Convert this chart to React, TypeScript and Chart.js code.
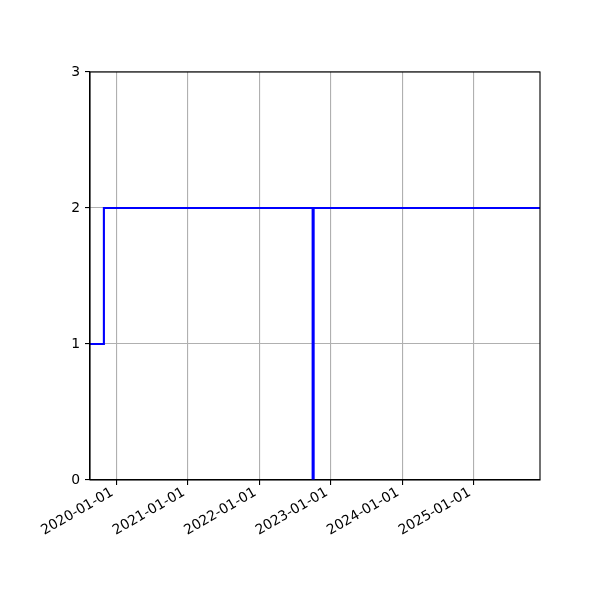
import React, { useEffect, useRef } from "react";
import { Chart, registerables } from "chart.js";

Chart.register(...registerables);

const stepDates = ["2019-08-20", "2019-10-30", "2022-10-01", "2022-10-06", "2025-12-06"];
const stepValues = [1, 2, 0, 2, 2];
const xTickLabels = ["2020-01-01", "2021-01-01", "2022-01-01", "2023-01-01", "2024-01-01", "2025-01-01"];
const yTickValues = [0, 1, 2, 3];
const xRange = ["2019-08-20", "2025-12-06"];

const toMs = (s: string) => {
  const [y, m, d] = s.split("-").map(Number);
  return Date.UTC(y, m - 1, d);
};

const FONT = "DejaVu Sans";
const FS = 13.9;
const LW = 1.11;

const frameAndLabels = {
  id: "frameAndLabels",
  afterDraw(chart: any) {
    const { ctx, chartArea } = chart;
    const xs = chart.scales.x;
    ctx.save();
    ctx.strokeStyle = "#000";
    ctx.lineWidth = LW;
    ctx.strokeRect(chartArea.left, chartArea.top, chartArea.right - chartArea.left, chartArea.bottom - chartArea.top);
    ctx.fillStyle = "#000";
    ctx.font = `${FS}px "${FONT}"`;
    ctx.textAlign = "right";
    ctx.textBaseline = "alphabetic";
    xTickLabels.forEach((lab) => {
      const px = xs.getPixelForValue(toMs(lab));
      const w = ctx.measureText(lab).width;
      const ox = px - 72 + 0.866 * w;
      const oy = chartArea.bottom + 55 - 0.5 * w;
      ctx.save();
      ctx.translate(ox, oy);
      ctx.rotate(-Math.PI / 6);
      ctx.fillText(lab, 0, 0);
      ctx.restore();
    });
    ctx.restore();
  },
};

export default function App() {
  const ref = useRef<HTMLCanvasElement>(null);
  useEffect(() => {
    if (!ref.current) return;
    const chart = new Chart(ref.current, {
      type: "line",
      data: {
        datasets: [
          {
            data: stepDates.map((d, i) => ({ x: toMs(d), y: stepValues[i] })),
            borderColor: "#0000ff",
            borderWidth: 2.1,
            pointRadius: 0,
            stepped: true,
            fill: false,
          },
        ],
      },
      options: {
        animation: false,
        responsive: false,
        devicePixelRatio: 1,
        layout: { padding: { left: 0, top: 72, right: 60, bottom: 0 } },
        plugins: { legend: { display: false }, tooltip: { enabled: false } },
        scales: {
          x: {
            type: "linear",
            min: toMs(xRange[0]),
            max: toMs(xRange[1]),
            afterBuildTicks: (scale: any) => {
              scale.ticks = xTickLabels.map((l) => ({ value: toMs(l) }));
            },
            afterFit: (scale: any) => {
              scale.height = 120;
            },
            ticks: { display: false },
            grid: { color: "#b0b0b0", lineWidth: LW, tickColor: "#000", tickLength: 5, tickWidth: LW },
            border: { color: "#000", width: LW },
          },
          y: {
            type: "linear",
            min: 0,
            max: 3,
            afterBuildTicks: (scale: any) => {
              scale.ticks = yTickValues.map((v) => ({ value: v }));
            },
            afterFit: (scale: any) => {
              scale.width = 90;
            },
            ticks: { color: "#000", font: { family: FONT, size: FS }, padding: 5 },
            grid: { color: "#b0b0b0", lineWidth: LW, tickColor: "#000", tickLength: 5, tickWidth: LW },
            border: { color: "#000", width: LW },
          },
        },
      },
      plugins: [frameAndLabels],
    });
    return () => chart.destroy();
  }, []);
  return (
    <div style={{ position: "absolute", left: 0, top: 0, width: 600, height: 600, background: "#fff" }}>
      <canvas ref={ref} width={600} height={600} style={{ width: 600, height: 600 }} />
    </div>
  );
}
